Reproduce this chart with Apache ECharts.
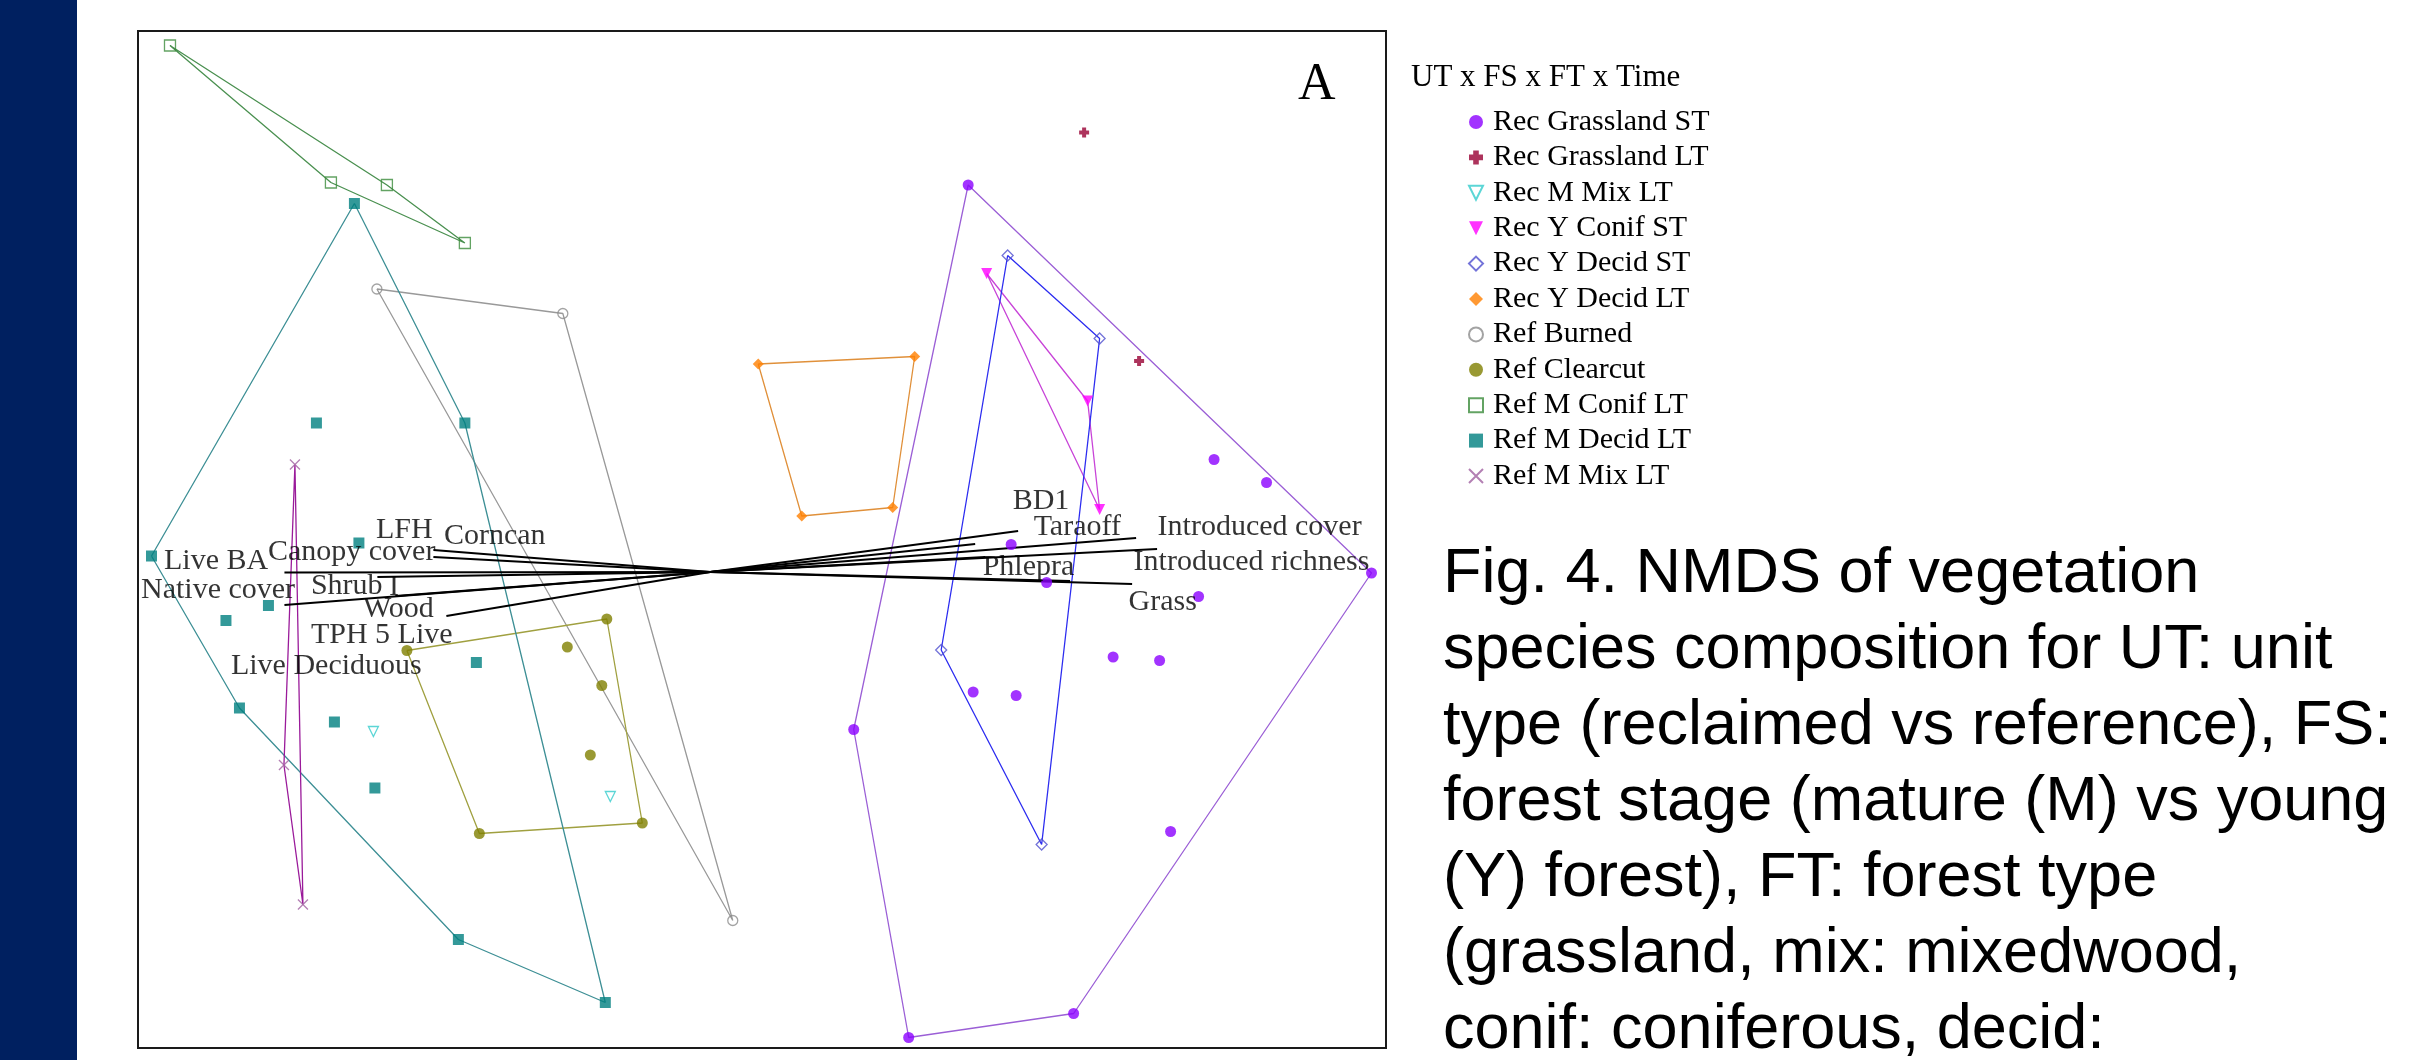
<!DOCTYPE html>
<html>
<head>
<meta charset="utf-8">
<script src="https://cdn.jsdelivr.net/npm/echarts@6/dist/echarts.min.js"></script>
<style>
  html, body { margin: 0; padding: 0; background: #ffffff; }
  #chart { width: 2425px; height: 1060px; }
</style>
</head>
<body>
<div id="chart"></div>
<script>
// ---------- DATA (NMDS scores) ----------
const groupNames = ['Rec Grassland ST','Rec Grassland LT','Rec M Mix LT','Rec Y Conif ST','Rec Y Decid ST','Rec Y Decid LT','Ref Burned','Ref Clearcut','Ref M Conif LT','Ref M Decid LT','Ref M Mix LT'];

const recGrasslandST = [[0.516,0.774],[1.008,0.225],[1.113,0.179],[0.602,0.055],[0.673,-0.021],[0.977,-0.049],[1.323,-0.002],[0.806,-0.170],[0.899,-0.177],[0.526,-0.240],[0.612,-0.247],[0.287,-0.315],[0.921,-0.519],[0.727,-0.883],[0.397,-0.931]];
const recGrasslandLT = [[0.748,0.879],[0.858,0.422]];
const recMMixLT = [[-0.674,-0.319],[-0.200,-0.449]];
const recYConifST = [[0.553,0.597],[0.755,0.342],[0.779,0.125]];
const recYDecidST = [[0.595,0.633],[0.779,0.467],[0.462,-0.156],[0.663,-0.545]];
const recYDecidLT = [[0.096,0.416],[0.409,0.431],[0.365,0.129],[0.183,0.112]];
const refBurned = [[-0.667,0.566],[-0.295,0.517],[0.045,-0.697]];
const refClearcut = [[-0.607,-0.157],[-0.207,-0.094],[-0.286,-0.150],[-0.217,-0.227],[-0.240,-0.366],[-0.136,-0.502],[-0.462,-0.523]];
const refMConifLT = [[-1.081,1.053],[-0.759,0.779],[-0.647,0.774],[-0.491,0.658]];
const refMDecidLT = [[-0.712,0.737],[-0.788,0.298],[-0.491,0.298],[-1.118,0.032],[-0.703,0.058],[-0.884,-0.067],[-0.969,-0.097],[-0.942,-0.272],[-0.752,-0.300],[-0.468,-0.181],[-0.671,-0.432],[-0.504,-0.735],[-0.210,-0.861]];
const refMMixLT = [[-0.831,0.215],[-0.853,-0.386],[-0.815,-0.665]];

// biplot vectors (from centroid 0,0)
const vectorEnds = [[-0.852,-0.001],[-0.852,-0.066],[-0.554,0.044],[-0.554,0.030],[-0.666,-0.010],[-0.630,-0.048],[-0.528,-0.088],[0.616,0.082],[0.852,0.068],[0.894,0.046],[0.530,0.056],[0.550,0.030],[0.720,-0.018],[0.844,-0.024]];
const vectorLabels = ['LFH','Corncan','Canopy cover','Live BA','Native cover','Shrub','I','Wood','TPH 5 Live','Live Deciduous','BD1','Taraoff','Introduced cover','Introduced richness','Phlepra','Grass'];
const vectorLabelAnchors = [[-0.670,0.084],[-0.534,0.072],[-0.886,0.040],[-1.094,0.022],[-1.140,-0.036],[-0.800,-0.028],[-0.644,-0.030],[-0.696,-0.074],[-0.800,-0.126],[-0.960,-0.188],[0.604,0.142],[0.646,0.090],[0.894,0.090],[0.846,0.020],[0.544,0.010],[0.836,-0.060]];

const axisRangeX = [-1.145, 1.352];
const axisRangeY = [-0.952, 1.082];

const legendTitle = 'UT x FS x FT x Time';
const panelLetter = 'A';
const captionLines = ['Fig. 4. NMDS of vegetation','species composition for UT: unit','type (reclaimed vs reference), FS:','forest stage (mature (M) vs young','(Y) forest), FT: forest type','(grassland, mix: mixedwood,','conif: coniferous, decid:'];

// ---------- STYLES ----------
const groupData = [recGrasslandST, recGrasslandLT, recMMixLT, recYConifST, recYDecidST, recYDecidLT, refBurned, refClearcut, refMConifLT, refMDecidLT, refMMixLT];
const PLUS = 'path://M3,0H7V3H10V7H7V10H3V7H0V3H3Z';
const DOWN_TRI = 'path://M0,0L10,0L5,10Z';
const XMARK = 'path://M0,0L10,10M10,0L0,10';
const groupStyles = [
  {symbol:'circle', size:11, color:'#8b00ff', hollow:false, hull:'#9b5fd6'},
  {symbol:PLUS, size:10, color:'#990033', hollow:false, hull:'#990033'},
  {symbol:DOWN_TRI, size:10, color:'#33cccc', hollow:true, hull:'#33cccc'},
  {symbol:DOWN_TRI, size:11, color:'#ff00ff', hollow:false, hull:'#c844d8'},
  {symbol:'diamond', size:11, color:'#5050d0', hollow:true, hull:'#2d2df0'},
  {symbol:'diamond', size:11, color:'#ff8000', hollow:false, hull:'#e0903a'},
  {symbol:'circle', size:10, color:'#8c8c8c', hollow:true, hull:'#999999'},
  {symbol:'circle', size:11, color:'#808000', hollow:false, hull:'#a0a040'},
  {symbol:'rect', size:11, color:'#3c8c3c', hollow:true, hull:'#4a9050'},
  {symbol:'rect', size:11, color:'#008080', hollow:false, hull:'#3d8f95'},
  {symbol:XMARK, size:10, color:'#a060a0', hollow:true, hull:'#9a1a9a'}
];

function convexHull(pts) {
  const p = pts.slice().sort((a, b) => a[0] - b[0] || a[1] - b[1]);
  const cross = (o, a, b) => (a[0]-o[0])*(b[1]-o[1]) - (a[1]-o[1])*(b[0]-o[0]);
  const lower = [], upper = [];
  for (const q of p) { while (lower.length >= 2 && cross(lower[lower.length-2], lower[lower.length-1], q) <= 0) lower.pop(); lower.push(q); }
  for (let i = p.length - 1; i >= 0; i--) { const q = p[i]; while (upper.length >= 2 && cross(upper[upper.length-2], upper[upper.length-1], q) <= 0) upper.pop(); upper.push(q); }
  upper.pop(); lower.pop();
  const h = lower.concat(upper);
  h.push(h[0]);
  return h;
}

const series = [];
// hulls
groupData.forEach((d, i) => {
  if (d.length < 3) return;
  series.push({
    type: 'line', name: groupNames[i] + ' hull', data: convexHull(d),
    symbol: 'none', silent: true, z: 1, animation: false,
    lineStyle: { color: groupStyles[i].hull, width: 1.3 }
  });
});
// vectors
series.push({
  type: 'lines', coordinateSystem: 'cartesian2d', silent: true, z: 2, animation: false,
  lineStyle: { color: '#000000', width: 2, opacity: 1 },
  data: vectorEnds.map(e => ({ coords: [[0, 0], e] }))
});
// vector labels
series.push({
  type: 'scatter', name: 'vector labels', silent: true, z: 4, animation: false,
  symbolSize: 1, itemStyle: { color: 'rgba(0,0,0,0)' },
  data: vectorLabelAnchors.map((a, i) => ({ value: a, name: vectorLabels[i] })),
  label: {
    show: true, position: 'right', distance: 0, formatter: p => p.name,
    fontFamily: 'Liberation Serif', fontSize: 30, color: '#000'
  }
});
// points
groupData.forEach((d, i) => {
  const s = groupStyles[i];
  series.push({
    type: 'scatter', name: groupNames[i], data: d, z: 3, animation: false,
    symbol: s.symbol, symbolSize: s.size,
    itemStyle: s.hollow
      ? { color: 'rgba(255,255,255,0)', borderColor: s.color, borderWidth: 1.3 }
      : { color: s.color }
  });
});

const chart = echarts.init(document.getElementById('chart'), null, { renderer: 'canvas' });
chart.setOption({
  backgroundColor: '#ffffff',
  animation: false,
  graphic: [{ type: 'rect', shape: { x: 0, y: 0, width: 77, height: 1060 }, style: { fill: '#002060' }, z: 0 }],
  title: [
    { text: legendTitle, left: 1411, top: 62, padding: 0,
      textStyle: { fontFamily: 'Liberation Serif', fontSize: 31, lineHeight: 31, fontWeight: 'normal', color: '#000' } },
    { text: panelLetter, left: 1298, top: 59, padding: 0,
      textStyle: { fontFamily: 'Liberation Serif', fontSize: 52, lineHeight: 52, fontWeight: 'normal', color: '#000' } },
    { text: captionLines.join('\n'), left: 1443, top: 537, padding: 0,
      textStyle: { fontFamily: 'Liberation Sans', fontSize: 63, lineHeight: 76, fontWeight: 'normal', color: '#000' } }
  ],
  legend: {
    data: groupNames, orient: 'vertical', left: 1468, top: 107, padding: 0,
    itemWidth: 14, itemHeight: 14, itemGap: 5.4, selectedMode: false,
    textStyle: { fontFamily: 'Liberation Serif', fontSize: 30, lineHeight: 30, color: '#000', padding: [0, 0, 0, 5] }
  },
  grid: { left: 138, top: 31, width: 1248, height: 1017, show: true, borderColor: '#1a1a1a', borderWidth: 2, backgroundColor: 'rgba(0,0,0,0)' },
  xAxis: { type: 'value', min: axisRangeX[0], max: axisRangeX[1], show: false },
  yAxis: { type: 'value', min: axisRangeY[0], max: axisRangeY[1], show: false },
  series: series
});
</script>
</body>
</html>
